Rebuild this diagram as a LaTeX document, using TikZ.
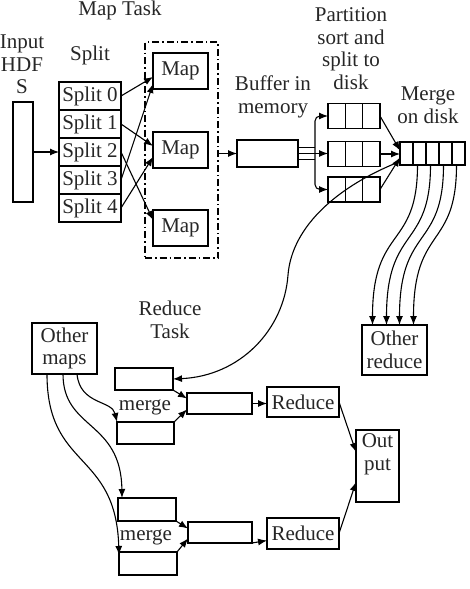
\documentclass[tikz,border=0pt]{standalone}
\usepackage{fontspec}
\setmainfont{Liberation Serif}
\usetikzlibrary{arrows.meta,calc}
\begin{document}
\begin{tikzpicture}[x=1pt,y=-1pt,
  every node/.style={font=\fontsize{21}{22.5}\selectfont, inner sep=0pt, outer sep=0pt, text=black!85},
  box/.style={draw, line width=1.3pt, rectangle, align=center},
  lbl/.style={align=center, anchor=north},
  arr/.style={line width=1.1pt, -{Latex[length=9pt,width=7pt]}},
  ln/.style={line width=1.1pt},
  cell/.style={line width=1.3pt}
]
\useasboundingbox (0,0) rectangle (469,589);

% ---------- Map task ----------
\node[box, minimum width=73pt, minimum height=216pt, dash pattern=on 7pt off 3pt on 1.5pt off 3pt] (mapgroup) at (181.5,150) {};
\node[anchor=base] (tmaptask) at (120,15) {Map Task};
\node[lbl] (tinput) at (22,35) {Input\\HDF\\S};
\node[anchor=base] (tsplit) at (90,60) {Split};
\node[box, minimum width=20pt, minimum height=100pt] (inp) at (23,152) {};
\foreach \i/\y in {0/96,1/124,2/152,3/180,4/208}
  \node[box, minimum width=62pt, minimum height=28pt] (split\i) at (90,\y) {Split \i};
\node[box, minimum width=55pt, minimum height=36pt] (map1) at (180.5,71) {Map};
\node[box, minimum width=55pt, minimum height=36pt] (map2) at (180.5,150) {Map};
\node[box, minimum width=55pt, minimum height=36pt] (map3) at (180.5,228) {Map};

\draw[arr] (inp.east) -- (split2.west);
\draw[arr] (split0.east) -- ([yshift=-6]map1.west);
\draw[arr] (split3.east) -- ([yshift=-13]map1.west);
\draw[arr] (split1.east) -- ([yshift=4]map2.west);
\draw[arr] (split4.east) -- ([yshift=-7]map2.west);
\draw[arr] (split2.east) -- ([yshift=8]map3.west);

% ---------- Buffer / partition / merge ----------
\node[lbl] (tbuffer) at (273,76) {Buffer in\\memory};
\node[lbl] (tpart) at (351,8) {Partition\\sort and\\split to\\disk};
\node[lbl] (tmerge) at (428,87) {Merge\\on disk};
\node[box, minimum width=61pt, minimum height=27pt] (buf) at (267.5,153.5) {};
\node[box, minimum width=52pt, minimum height=25pt] (part1) at (354,116) {};
\node[box, minimum width=52pt, minimum height=25pt] (part2) at (354,154) {};
\node[box, minimum width=52pt, minimum height=25pt] (part3) at (354,189.5) {};
\node[box, minimum width=65pt, minimum height=23pt] (merge) at (432.5,153.5) {};
\foreach \p in {part1,part2,part3}
  \foreach \f in {0.3333,0.6667}
    \draw[cell] ($(\p.north west)!\f!(\p.north east)$) -- ($(\p.south west)!\f!(\p.south east)$);
\foreach \f in {0.2,0.4,0.6,0.8}
  \draw[cell] ($(merge.north west)!\f!(merge.north east)$) -- ($(merge.south west)!\f!(merge.south east)$);

\draw[arr] (mapgroup.east |- buf.west) -- (buf.west);
\coordinate (fork) at ([xshift=17]buf.east);
\draw[ln] ([yshift=6]buf.east) -- ([yshift=6]fork);
\draw[ln] ([yshift=-6]buf.east) -- ([yshift=-6]fork);
\draw[arr] (buf.east) -- (buf.east -| part2.west);
\draw[arr, rounded corners=5pt] (fork) |- (part1.west);
\draw[arr, rounded corners=5pt] (fork) |- (part3.west);

\draw[arr] (part1.east) -- ([yshift=3]merge.west);
\draw[arr] (part2.east) -- (part2.east -| merge.west);
\draw[arr] (part3.east) -- ([yshift=-4]merge.west);

% ---------- Other reduce ----------
\node[box, minimum width=65pt, minimum height=50pt] (othred) at (394.5,350) {Other\\reduce};
\foreach \s/\e in {-15/-22, -2/-8, 11/5, 24/19}
  \draw[arr] ([xshift=\s]merge.south) .. controls ([xshift=\s,yshift=-85]merge.south) and ([xshift=\e,yshift=100]othred.north) .. ([xshift=\e]othred.north);

% ---------- Reduce task ----------
\node[lbl] (treduce) at (170,301) {Reduce\\Task};
\node[box, minimum width=65pt, minimum height=51pt] (othmaps) at (64.5,348.5) {Other\\maps};
\node[box, minimum width=58pt, minimum height=22pt] (A) at (144,379) {};
\node[box, minimum width=57pt, minimum height=22pt] (B) at (145.5,433) {};
\node[box, minimum width=65pt, minimum height=21pt] (C) at (219.5,403.5) {};
\node[anchor=base] (tmerge1) at (145,410) {merge};
\node[box, minimum width=72pt, minimum height=30pt] (red1) at (303,402) {Reduce};

\node[box, minimum width=58pt, minimum height=23pt] (D) at (147,509.5) {};
\node[box, minimum width=58pt, minimum height=23pt] (E) at (148,563.5) {};
\node[box, minimum width=64pt, minimum height=21pt] (F) at (220,532.5) {};
\node[anchor=base] (tmerge2) at (146,540) {merge};
\node[box, minimum width=72pt, minimum height=31pt] (red2) at (303,533.5) {Reduce};

\node[box, minimum width=43pt, minimum height=72pt] (out) at (377.5,466) {};
\node[lbl] (tout) at ([yshift=-4]out.north) {Out\\put};

\coordinate (bendA) at (288,275);
\draw[arr] ([yshift=-8]merge.west) .. controls (340,185) and (292,225) .. (bendA) .. controls (284,330) and (240,376) .. (A.east);

\draw[arr] (A.south east) -- ([yshift=5]C.west);
\draw[arr] (B.north east) -- ([yshift=-6]C.west);
\draw[arr] (C.east) -- (C.east -| red1.west);
\draw[arr] (red1.east) -- ([yshift=14]out.west);
\draw[arr] (D.south east) -- ([yshift=4]F.west);
\draw[arr] (E.north east) -- ([yshift=-6]F.west);
\draw[arr] (F.south east) -- ([yshift=-7]red2.west);
\draw[arr] (red2.east) -- ([yshift=-16]out.west);

\draw[arr] ([xshift=12.5]othmaps.south) .. controls (80,405) and (112,400) .. (B.north west);
\draw[arr] ([xshift=-1.5]othmaps.south) .. controls (63,430) and (121,420) .. ([xshift=4]D.north west);
\draw[arr] ([xshift=-17.5]othmaps.south) .. controls (47,470) and (116,450) .. ([yshift=-3]E.north west);
\end{tikzpicture}
\end{document}
